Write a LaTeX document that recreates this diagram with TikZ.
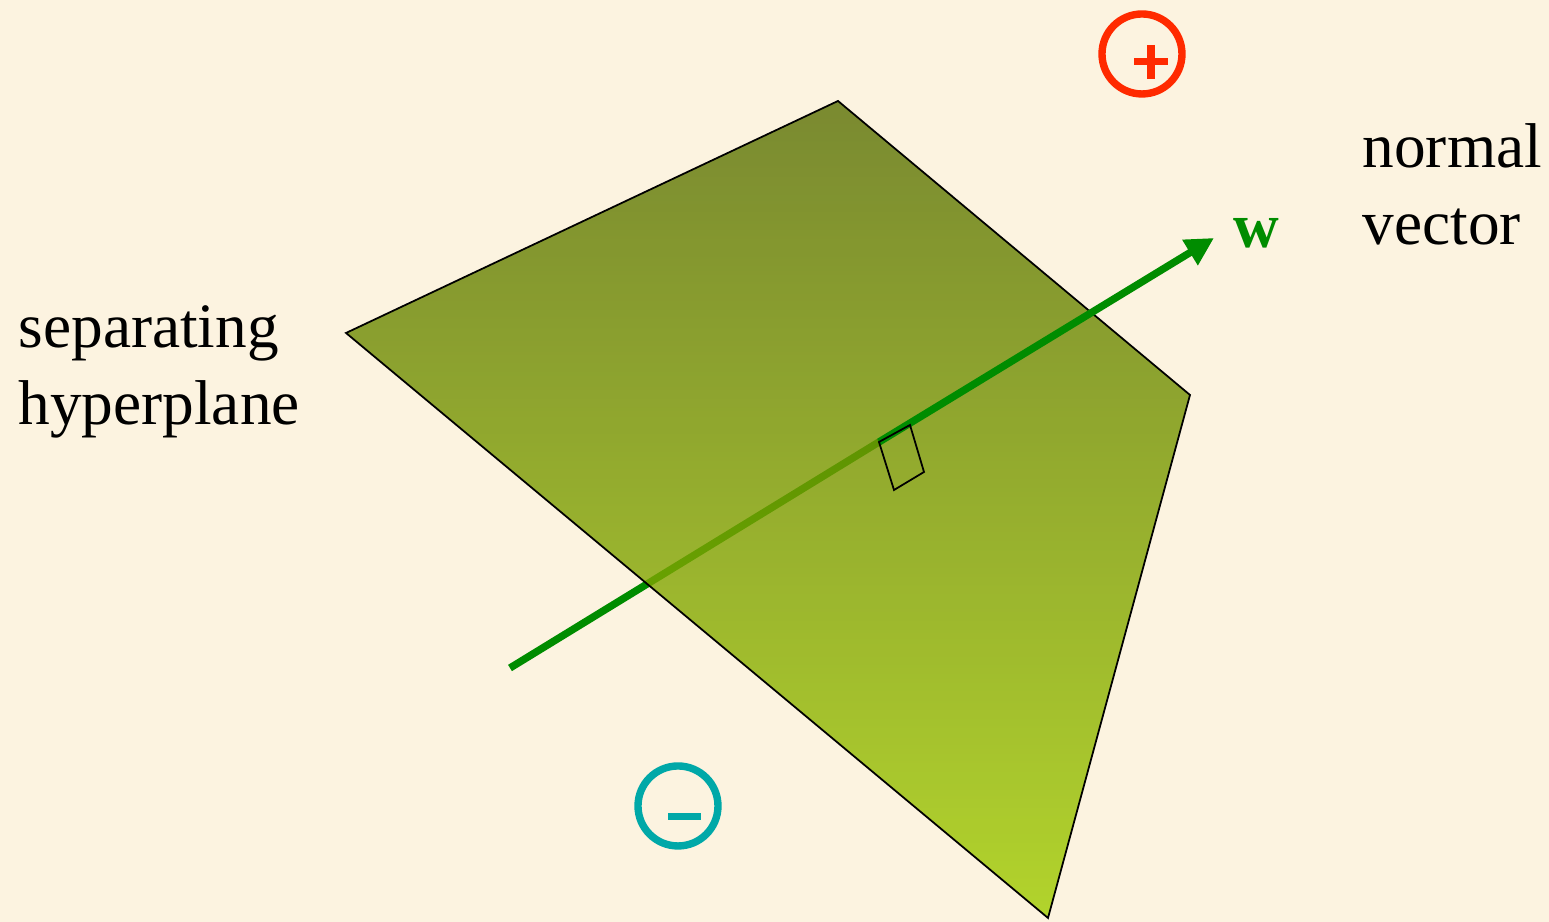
\documentclass[tikz,border=0pt]{standalone}
\usepackage{fontspec}
\setmainfont{Liberation Serif}
\usepackage{xcolor}
\usetikzlibrary{arrows.meta,positioning}
\definecolor{cream}{RGB}{252,243,224}
\definecolor{wgreen}{RGB}{0,140,0}
\definecolor{planetop}{RGB}{90,112,4}
\definecolor{planebot}{RGB}{160,204,0}
\definecolor{posred}{RGB}{255,42,0}
\definecolor{negteal}{RGB}{0,168,168}

\begin{document}
\begin{tikzpicture}[font=\fontsize{18}{22}\selectfont,
  sign/.style={draw,circle,line width=2.1pt,minimum size=0.8cm,inner sep=0pt},
  edge/.style={line width=0.5pt},
  wvec/.style={draw=wgreen,line width=2.1pt},
  lbl/.style={align=left,inner sep=0pt,anchor=base west}]
\useasboundingbox (0,0) rectangle (15.49,9.22);
\fill[cream] (0,0) rectangle (15.49,9.22);
% corners of the plane and the normal
\coordinate (pA) at (3.46,5.89); \coordinate (pB) at (8.38,8.21);
\coordinate (pC) at (11.90,5.27); \coordinate (pD) at (10.48,0.04);
\coordinate (tail) at (5.10,2.54); \coordinate (foot) at (8.79,4.80);
\coordinate (tip) at (12.14,6.84);
% part of w behind the plane
\draw[wvec] (tail) -- (foot);
\shade[top color=planetop,bottom color=planebot,fill opacity=0.8] (pA) -- (pB) -- (pC) -- (pD) -- cycle;
\draw[edge] (pA) -- (pB) -- (pC) -- (pD) -- cycle;
\draw[wvec,-{Triangle[length=8pt,width=8pt]}] (foot) -- (tip);
\draw[edge] (foot) -- (9.10,4.97) -- (9.24,4.50) -- (8.94,4.32) -- cycle;
\node[text=wgreen,font=\fontsize{18}{22}\selectfont\bfseries,anchor=base] (w) at (12.56,6.74) {w};
\node[lbl] (normal) at (13.62,6.77) {normal\\vector};
\node[lbl] (sep) at (0.18,4.97) {separating\\hyperplane};
\node[sign,draw=posred] (pos) at (11.42,8.68) {};
\draw[posred,line width=2pt] ([shift={(-0.08,-0.08)}]pos.center) -- ([shift={(0.26,-0.08)}]pos.center)
  ([shift={(0.09,0.09)}]pos.center) -- ([shift={(0.09,-0.25)}]pos.center);
\node[sign,draw=negteal] (neg) at (6.78,1.16) {};
\draw[negteal,line width=2pt] ([shift={(-0.10,-0.11)}]neg.center) -- ([shift={(0.23,-0.11)}]neg.center);
\end{tikzpicture}
\end{document}
